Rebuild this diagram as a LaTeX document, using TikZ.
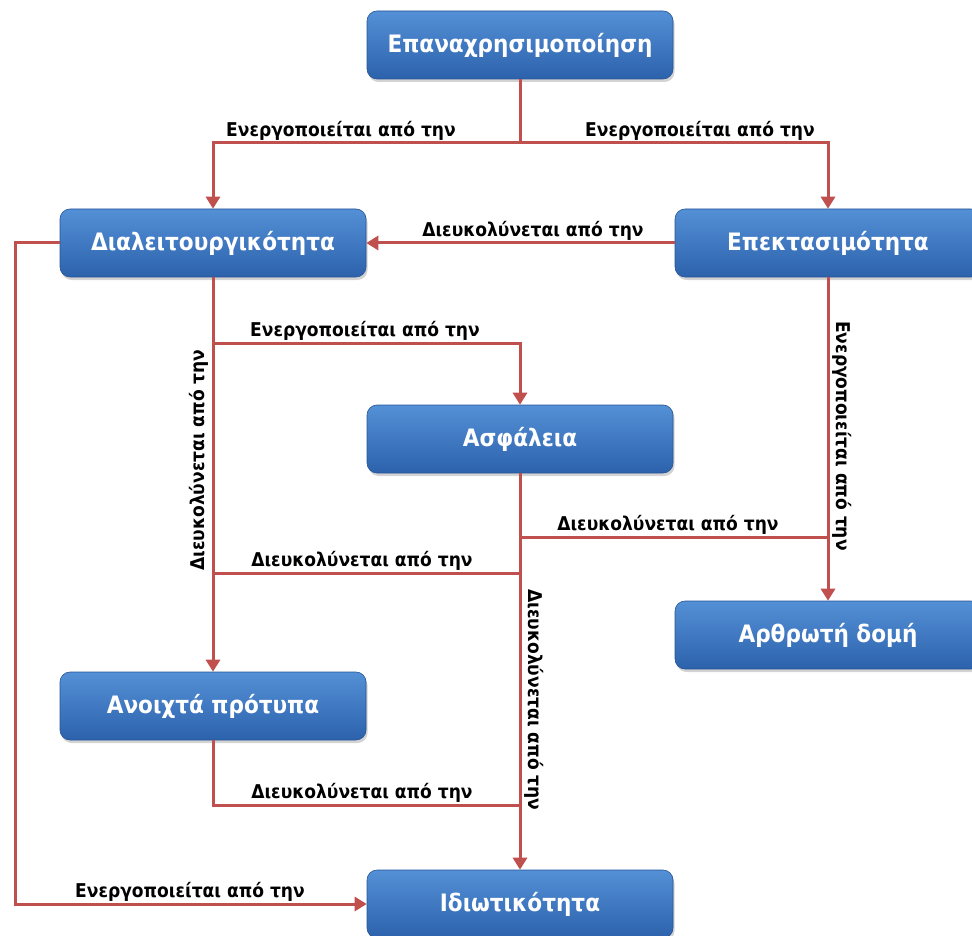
\documentclass[tikz,border=0pt]{standalone}
\usepackage{fontspec}
\newfontfamily\diagfont{DejaVu Sans Condensed}
\usetikzlibrary{arrows.meta,shadows,positioning}

\definecolor{boxtop}{RGB}{84,144,214}
\definecolor{boxbot}{RGB}{44,98,172}
\definecolor{boxedge}{RGB}{38,84,150}
\definecolor{linkred}{RGB}{192,80,77}

\tikzset{
  topic/.style={rounded corners=10pt, minimum width=306pt, minimum height=68pt,
    top color=boxtop, bottom color=boxbot, draw=boxedge, line width=0.6pt,
    text=white, font=\diagfont\bfseries\fontsize{24}{28}\selectfont,
    drop shadow={opacity=0.35, shadow xshift=1.5pt, shadow yshift=-3pt}},
  flow/.style={draw=linkred, line width=3pt},
  tip/.style={-{Triangle[length=12pt,width=14pt]}},
  lbl/.style={font=\diagfont\bfseries\fontsize{19}{22}\selectfont, text=black, inner sep=2pt},
}

\begin{document}
\begin{tikzpicture}[x=1pt,y=-1pt]
   \useasboundingbox (0,0) rectangle (972,936);
   \clip (0,0) rectangle (972,936);
   %topics
   \node[topic] (reuse) at (520,45) {Επαναχρησιμοποίηση};
   \node[topic] (interop) at (213,243) {Διαλειτουργικότητα};
   \node[topic] (extens) at (828,243) {Επεκτασιμότητα};
   \node[topic] (security) at (520,439) {Ασφάλεια};
   \node[topic] (modular) at (828,635) {Αρθρωτή δομή};
   \node[topic] (openstd) at (213,706) {Ανοιχτά πρότυπα};
   \node[topic] (privacy) at (520,904) {Ιδιωτικότητα};
   %junctions
   \coordinate (fork1) at (520,143);
   \coordinate (fork2) at (213,343);
   \coordinate (fork3) at (520,537);
   \coordinate (join3) at (828,537);
   \coordinate (fork4) at (213,573);
   \coordinate (join4) at (520,573);
   \coordinate (join5) at (520,805);
   \coordinate (rail) at (15,904);
   %links
   \draw[flow,tip] (reuse) -- (fork1) -| (interop);
   \draw[flow,tip] (reuse) -- (fork1) -| (extens);
   \draw[flow,tip] (extens) -- (interop);
   \draw[flow,tip] (interop) -- (openstd);
   \draw[flow,tip] (fork2) -| (security);
   \draw[flow,tip] (extens) -- (modular);
   \draw[flow,tip] (security) -- (privacy);
   \draw[flow] (fork3) -- (join3);
   \draw[flow] (fork4) -- (join4);
   \draw[flow] (openstd) |- (join5);
   \draw[flow,tip] (interop.west) -| (rail) -- (privacy);
   %labels
   \node[lbl,above] (enL) at (341,143) {Ενεργοποιείται από την};
   \node[lbl,above] (enR) at (700,143) {Ενεργοποιείται από την};
   \node[lbl,above] (diTop) at (533,243) {Διευκολύνεται από την};
   \node[lbl,above] (enMid) at (365,343) {Ενεργοποιείται από την};
   \node[lbl,rotate=90,anchor=south] (diLeft) at (211,460) {Διευκολύνεται από την};
   \node[lbl,rotate=-90,anchor=south] (enRight) at (830,436) {Ενεργοποιείται από την};
   \node[lbl,above] (diSec) at (668,537) {Διευκολύνεται από την};
   \node[lbl,above] (diMid) at (362,573) {Διευκολύνεται από την};
   \node[lbl,rotate=-90,anchor=south] (diDown) at (522,700) {Διευκολύνεται από την};
   \node[lbl,above] (diLow) at (362,805) {Διευκολύνεται από την};
   \node[lbl,above] (enLow) at (190,904) {Ενεργοποιείται από την};
\end{tikzpicture}
\end{document}
